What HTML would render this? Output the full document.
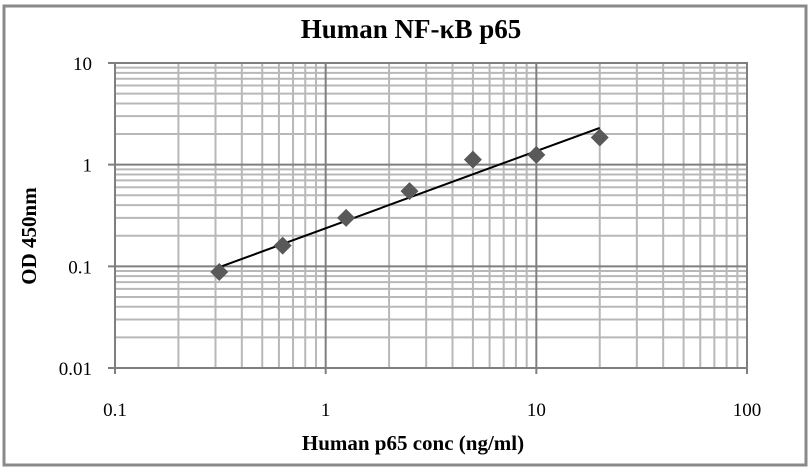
<!DOCTYPE html>
<html><head><meta charset="utf-8"><style>
html,body{margin:0;padding:0;background:#fff;}
svg{display:block;}
text{font-family:"Liberation Serif",serif;}
</style></head><body>
<svg id="chart" width="812" height="472" viewBox="0 0 812 472">
<rect x="4" y="6" width="802" height="459" fill="#fff" stroke="#8a8a8a" stroke-width="3"/>
<text x="411" y="38" text-anchor="middle" style="font-size:27px;font-weight:bold">Human NF-κB p65</text>
<g id="grid"></g>
<g id="axes"></g>
<g id="marks"></g>
<text x="413" y="450" text-anchor="middle" style="font-size:21px;font-weight:bold">Human p65 conc (ng/ml)</text>
<text transform="translate(36,236) rotate(-90)" text-anchor="middle" style="font-size:21px;font-weight:bold">OD 450nm</text>
</svg>
<script>
const concentrations = [0.3125, 0.625, 1.25, 2.5, 5, 10, 20];
const odValues = [0.088, 0.16, 0.30, 0.55, 1.12, 1.25, 1.85];
const fitX = [0.3125, 20];
const fitY = [0.098, 2.3];
const xTicks = [0.1, 1, 10, 100];
const xTickLabels = ["0.1", "1", "10", "100"];
const yTicks = [0.01, 0.1, 1, 10];
const yTickLabels = ["0.01", "0.1", "1", "10"];

const X0 = 115, X1 = 747, Y0 = 368, Y1 = 63;
const xs = v => X0 + (Math.log10(v) + 1) / 3 * (X1 - X0);
const ys = v => Y0 - (Math.log10(v) + 2) / 3 * (Y0 - Y1);
const NS = "http://www.w3.org/2000/svg";
function mk(tag, attrs, parent) {
  const e = document.createElementNS(NS, tag);
  for (const k in attrs) e.setAttribute(k, attrs[k]);
  parent.appendChild(e);
  return e;
}
const grid = document.getElementById('grid');
const axes = document.getElementById('axes');
const marks = document.getElementById('marks');

for (let d = -1; d < 2; d++) {
  for (let m = 2; m <= 9; m++) {
    const v = m * Math.pow(10, d);
    const l = mk('line', {x1: xs(v), x2: xs(v), y1: Y1, y2: Y0, stroke: '#b8b8b8', 'stroke-width': 2}, grid);
    
    
  }
}
for (let d = -2; d < 1; d++) {
  for (let m = 2; m <= 9; m++) {
    const v = m * Math.pow(10, d);
    const l = mk('line', {x1: X0, x2: X1, y1: ys(v), y2: ys(v), stroke: '#b8b8b8', 'stroke-width': 2}, grid);
    
    
  }
}
xTicks.forEach((v, i) => {
  const l = mk('line', {x1: xs(v), x2: xs(v), y1: Y1, y2: Y0 + 6, stroke: '#7f7f7f', 'stroke-width': 2}, axes);
  
  
  const t = mk('text', {x: xs(v), y: 416, 'text-anchor': 'middle', style: 'font-size:19px'}, axes);
  t.textContent = xTickLabels[i];
  
  
});
yTicks.forEach((v, i) => {
  const l = mk('line', {x1: X0 - 7, x2: X1, y1: ys(v), y2: ys(v), stroke: '#7f7f7f', 'stroke-width': 2}, axes);
  
  
  const t = mk('text', {x: 92, y: ys(v) + 7, 'text-anchor': 'end', style: 'font-size:19px'}, axes);
  t.textContent = yTickLabels[i];
  
  
});
const bx = mk('rect', {x: X0, y: Y1, width: X1 - X0, height: Y0 - Y1, fill: 'none', stroke: '#7f7f7f', 'stroke-width': 2}, axes);


const fl = mk('line', {x1: xs(fitX[0]), y1: ys(fitY[0]), x2: xs(fitX[1]), y2: ys(fitY[1]), stroke: '#000', 'stroke-width': 2}, marks);


concentrations.forEach((c, i) => {
  const x = xs(c), y = ys(odValues[i]), r = 9;
  const p = mk('polygon', {points: `${x},${y - r} ${x + r},${y} ${x},${y + r} ${x - r},${y}`, fill: '#595959'}, marks);
  
  
});
</script>
</body></html>
